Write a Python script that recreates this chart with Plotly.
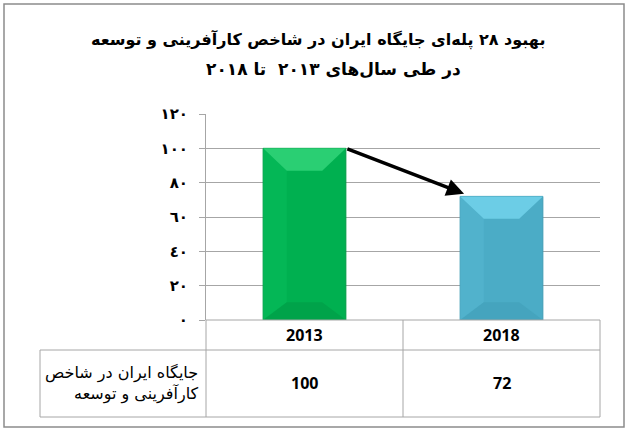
import plotly.graph_objects as go

categories = ["2013", "2018"]
values = [100, 72]
row_label = "جایگاه ایران در شاخص<br>کارآفرینی و توسعه"
title_lines = ["بهبود ۲۸ پله‌ای جایگاه ایران در شاخص کارآفرینی و توسعه",
               "در طی سال‌های ۲۰۱۳  تا ۲۰۱۸"]
tick_vals = [0, 20, 40, 60, 80, 100, 120]
tick_text = ["٠", "٢٠", "٤٠", "٦٠", "٨٠", "١٠٠", "١٢٠"]
bar_colors = ["#00b050", "#4bacc6"]
bar_edges = ["#009a44", "#3f9bb4"]
bevel_top = ["#35d77c", "#74d6ee"]
bevel_bot = ["#00a048", "#43a2bb"]
bevel_side = ["#06bd5a", "#55b6d0"]

W, H = 628, 434
L, R, T, B = 206, 600, 114, 320  # plot area in pixels
BAR_W = 0.42


def px(x):
    return (x - L) / (R - L)


def py(y):
    return (B - y) / (B - T)


xs = list(range(len(categories)))
fig = go.Figure()
fig.add_trace(go.Bar(
    x=xs, y=values, width=BAR_W,
    marker=dict(color=bar_colors, line=dict(color=bar_edges, width=1)),
    hoverinfo="skip",
))

shapes = []
# bevel highlights on bars (data coordinates)
dx, dy = 0.12, 13
for i, v in enumerate(values):
    x0, x1 = xs[i] - BAR_W / 2, xs[i] + BAR_W / 2
    shapes.append(dict(type="path", xref="x", yref="y", layer="above",
                       path=f"M {x0},{v} L {x0+dx},{v-dy} L {x0+dx},{dy*0.8} L {x0},0 Z",
                       fillcolor=bevel_side[i], line=dict(width=0), opacity=0.6))
    shapes.append(dict(type="path", xref="x", yref="y", layer="above",
                       path=f"M {x0},{v} L {x1},{v} L {x1-dx},{v-dy} L {x0+dx},{v-dy} Z",
                       fillcolor=bevel_top[i], line=dict(width=0), opacity=0.8))
    shapes.append(dict(type="path", xref="x", yref="y", layer="above",
                       path=f"M {x0},0 L {x1},0 L {x1-dx},{dy*0.8} L {x0+dx},{dy*0.8} Z",
                       fillcolor=bevel_bot[i], line=dict(width=0), opacity=0.8))

grey = "#a6a6a6"
# outer border
shapes.append(dict(type="rect", xref="paper", yref="paper",
                   x0=px(4), x1=px(624), y0=py(427), y1=py(4),
                   line=dict(color="#8c8c8c", width=1.5), layer="below"))
# table lines
tbl = dict(color=grey, width=1)
shapes += [
    dict(type="line", xref="paper", yref="paper", x0=px(L), x1=px(R), y0=py(B), y1=py(B), line=tbl),
    dict(type="line", xref="paper", yref="paper", x0=px(40), x1=px(R), y0=py(350), y1=py(350), line=tbl),
    dict(type="line", xref="paper", yref="paper", x0=px(40), x1=px(R), y0=py(417), y1=py(417), line=tbl),
    dict(type="line", xref="paper", yref="paper", x0=px(40), x1=px(40), y0=py(350), y1=py(417), line=tbl),
    dict(type="line", xref="paper", yref="paper", x0=px(L), x1=px(L), y0=py(B), y1=py(417), line=tbl),
    dict(type="line", xref="paper", yref="paper", x0=0.5, x1=0.5, y0=py(B), y1=py(417), line=tbl),
    dict(type="line", xref="paper", yref="paper", x0=px(R), x1=px(R), y0=py(B), y1=py(417), line=tbl),
]

annotations = []
for i, (c, v) in enumerate(zip(categories, values)):
    xc = (i + 0.5) / len(categories)
    annotations.append(dict(xref="paper", yref="paper", x=xc, y=py(335), text=f"<b>{c}</b>",
                            showarrow=False, font=dict(family="Open Sans", size=16, color="#000"),
                            xanchor="center", yanchor="middle"))
    annotations.append(dict(xref="paper", yref="paper", x=xc, y=py(383), text=f"<b>{v}</b>",
                            showarrow=False, font=dict(family="Open Sans", size=16, color="#000"),
                            xanchor="center", yanchor="middle"))
annotations.append(dict(xref="paper", yref="paper", x=px(201), y=py(383), text=row_label,
                        showarrow=False, align="right",
                        font=dict(family="DejaVu Sans", size=16, color="#000"),
                        xanchor="right", yanchor="middle"))
# title
annotations.append(dict(xref="paper", yref="paper", x=px(318), y=py(40),
                        text="<b>" + title_lines[0] + "</b>", showarrow=False,
                        font=dict(family="DejaVu Sans", size=16, color="#000"),
                        xanchor="center", yanchor="middle"))
annotations.append(dict(xref="paper", yref="paper", x=px(333), y=py(69),
                        text="<b>" + title_lines[1] + "</b>", showarrow=False,
                        font=dict(family="DejaVu Sans", size=17, color="#000"),
                        xanchor="center", yanchor="middle"))
# arrow from top of first bar to top of second bar
annotations.append(dict(x=xs[1] - 0.19, y=values[1] + 1.5, ax=xs[0] + BAR_W / 2, ay=values[0],
                        xref="x", yref="y", axref="x", ayref="y",
                        showarrow=True, arrowhead=2, arrowsize=1, arrowwidth=3.5,
                        arrowcolor="#000", text=""))

fig.update_layout(
    width=W, height=H,
    margin=dict(l=L, r=W - R, t=T, b=H - B),
    paper_bgcolor="white", plot_bgcolor="white",
    showlegend=False,
    shapes=shapes, annotations=annotations,
    xaxis=dict(range=[-0.5, 1.5], showticklabels=False, showgrid=False,
               zeroline=False, ticks="", fixedrange=True),
    yaxis=dict(range=[0, 120], tickvals=tick_vals, ticktext=tick_text,
               showgrid=True, gridcolor=grey, gridwidth=1,
               showline=True, linecolor=grey, linewidth=1,
               ticks="outside", ticklen=6, tickcolor=grey,
               ticklabelstandoff=8,
               tickfont=dict(family="DejaVu Sans", size=15, color="#000", weight="bold"),
               zeroline=False, fixedrange=True),
)
fig.write_html("out.html", config={"displayModeBar": False},
               post_script="document.body.style.margin='0';")
